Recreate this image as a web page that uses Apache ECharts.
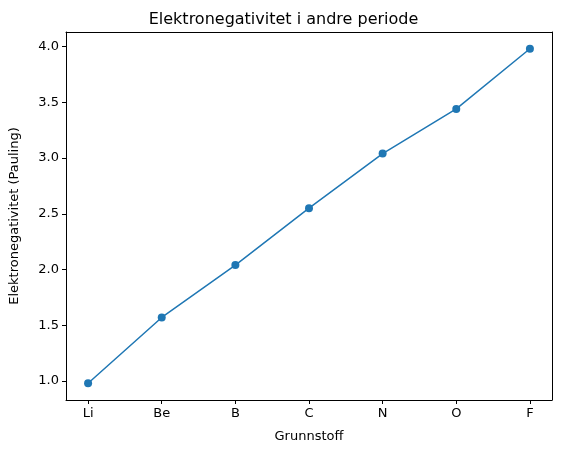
<!DOCTYPE html>
<html><head><meta charset="utf-8">
<script src="https://cdn.jsdelivr.net/npm/echarts@6/dist/echarts.min.js"></script>
<style>html,body{margin:0;padding:0;background:#fff}#c{width:567px;height:455px}</style>
</head><body><div id="c"></div>
<script>
const categories = ['Li','Be','B','C','N','O','F'];
const values = [0.98, 1.57, 2.04, 2.55, 3.04, 3.44, 3.98];
const yTicks = [1.0, 1.5, 2.0, 2.5, 3.0, 3.5, 4.0];

const font = 'DejaVu Sans';
const xIdx = categories.map((_, i) => i);
const chart = echarts.init(document.getElementById('c'));
const lineStyle = {color: '#000', width: 1};
chart.setOption({
  animation: false,
  textStyle: {fontFamily: font},
  title: {text: 'Elektronegativitet i andre periode', left: 'center', top: 7,
    textStyle: {fontFamily: font, fontSize: 16, fontWeight: 'normal', color: '#000'}},
  grid: {left: 62, right: 15, top: 32, bottom: 55},
  xAxis: [{
    type: 'value', min: -0.3, max: 6.3,
    name: 'Grunnstoff', nameLocation: 'middle', nameGap: 30,
    nameTextStyle: {fontFamily: font, fontSize: 13, color: '#000'},
    axisLine: {show: true, onZero: false, lineStyle},
    axisTick: {show: true, customValues: xIdx, length: 4, lineStyle},
    axisLabel: {customValues: xIdx, formatter: v => categories[Math.round(v)], color: '#000', fontSize: 13, fontFamily: font, margin: 7},
    splitLine: {show: false}
  }, {
    type: 'value', min: -0.3, max: 6.3, position: 'top',
    axisLine: {show: true, onZero: false, lineStyle}, axisTick: {show: false}, axisLabel: {show: false}, splitLine: {show: false}
  }],
  yAxis: [{
    type: 'value', min: 0.83, max: 4.13,
    name: 'Elektronegativitet (Pauling)', nameLocation: 'middle', nameGap: 45,
    nameTextStyle: {fontFamily: font, fontSize: 13, color: '#000'},
    axisLine: {show: true, onZero: false, lineStyle},
    axisTick: {show: true, customValues: yTicks, length: 4, lineStyle},
    axisLabel: {customValues: yTicks, formatter: v => v.toFixed(1), color: '#000', fontSize: 13, fontFamily: font, margin: 7},
    splitLine: {show: false}
  }, {
    type: 'value', min: 0.83, max: 4.13, position: 'right',
    axisLine: {show: true, onZero: false, lineStyle}, axisTick: {show: false}, axisLabel: {show: false}, splitLine: {show: false}
  }],
  series: [{
    type: 'line',
    data: values.map((v, i) => [i, v]),
    symbol: 'circle', symbolSize: 8,
    itemStyle: {color: '#1f77b4'},
    lineStyle: {color: '#1f77b4', width: 1.5}
  }]
});
</script></body></html>
